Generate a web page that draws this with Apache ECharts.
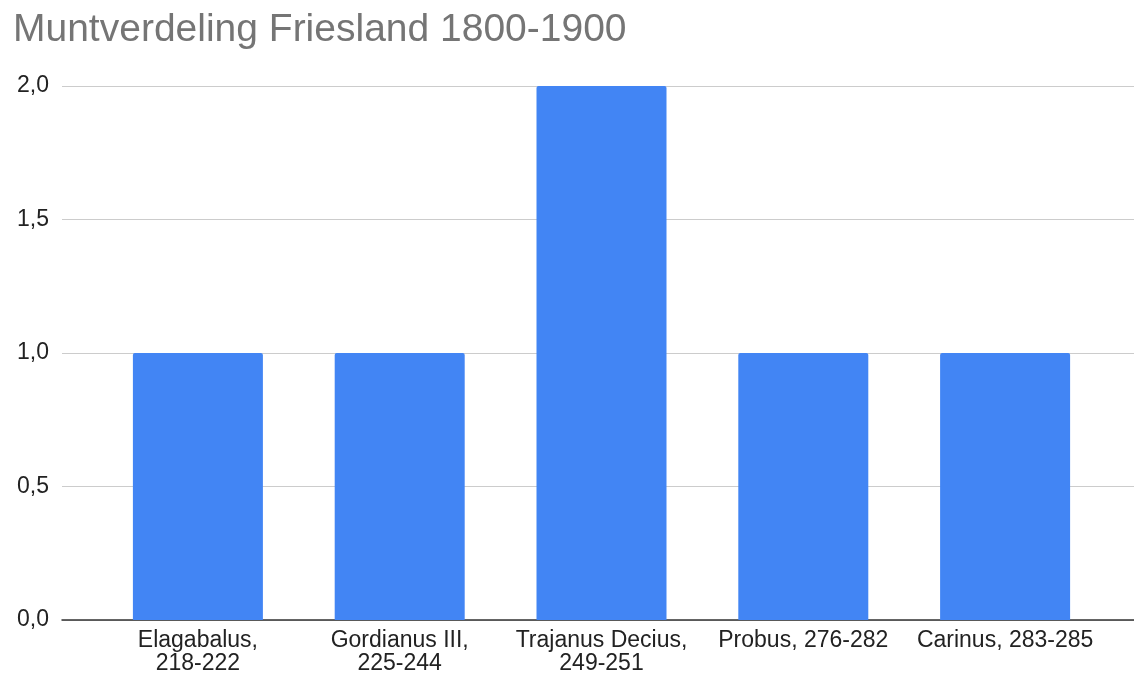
<!DOCTYPE html>
<html>
<head>
<meta charset="utf-8">
<script src="https://cdn.jsdelivr.net/npm/echarts@6/dist/echarts.min.js"></script>
<style>
  html, body { margin: 0; padding: 0; background: #fff; }
  #chart { width: 1134px; height: 677px; }
</style>
</head>
<body>
<div id="chart"></div>
<script>
  // 类目与数值
  const categories = ['Elagabalus,\n218-222', 'Gordianus III,\n225-244', 'Trajanus Decius,\n249-251', 'Probus, 276-282', 'Carinus, 283-285'];
  const coinCounts = [1, 1, 2, 1, 1];
  const yTicks = [0, 0.5, 1, 1.5, 2];

  const fontFamily = '"Liberation Sans", Arial, sans-serif';
  const chart = echarts.init(document.getElementById('chart'));

  const option = {
    animation: false,
    backgroundColor: '#fff',
    title: {
      text: 'Muntverdeling Friesland 1800-1900',
      left: 8,
      top: 6,
      textStyle: { fontFamily, fontSize: 39, fontWeight: 'normal', color: '#757575' },
    },
    grid: [
      { left: 62, right: 0, top: 86, bottom: 57 },
      { left: 97, right: 28, top: 86, bottom: 57 },
    ],
    xAxis: [
      {
        gridIndex: 0,
        type: 'value',
        min: 0,
        max: 1,
        axisLine: { show: true, lineStyle: { color: '#333', width: 1.5 } },
        axisTick: { show: false },
        axisLabel: { show: false },
        splitLine: { show: false },
      },
      {
        gridIndex: 1,
        type: 'category',
        data: categories,
        axisLine: { show: false },
        axisTick: { show: false },
        axisLabel: {
          fontFamily,
          fontSize: 23,
          color: '#222',
          margin: 9,
          lineHeight: 23,
          interval: 0,
        },
      },
    ],
    yAxis: [
      {
        gridIndex: 0,
        type: 'value',
        min: yTicks[0],
        max: yTicks[yTicks.length - 1],
        interval: 0.5,
        axisLine: { show: false },
        axisTick: { show: false },
        axisLabel: {
          fontFamily,
          fontSize: 23,
          color: '#222',
          margin: 13,
          formatter: v => v.toFixed(1).replace('.', ','),
        },
        splitLine: { lineStyle: { color: '#cccccc', width: 1 } },
      },
      {
        gridIndex: 1,
        type: 'value',
        min: yTicks[0],
        max: yTicks[yTicks.length - 1],
        show: false,
      },
    ],
    series: [
      {
        type: 'bar',
        xAxisIndex: 1,
        yAxisIndex: 1,
        data: coinCounts,
        barWidth: 130,
        itemStyle: { color: '#4285f4', borderRadius: [2, 2, 0, 0] },
      },
    ],
  };

  chart.setOption(option);
</script>
</body>
</html>
